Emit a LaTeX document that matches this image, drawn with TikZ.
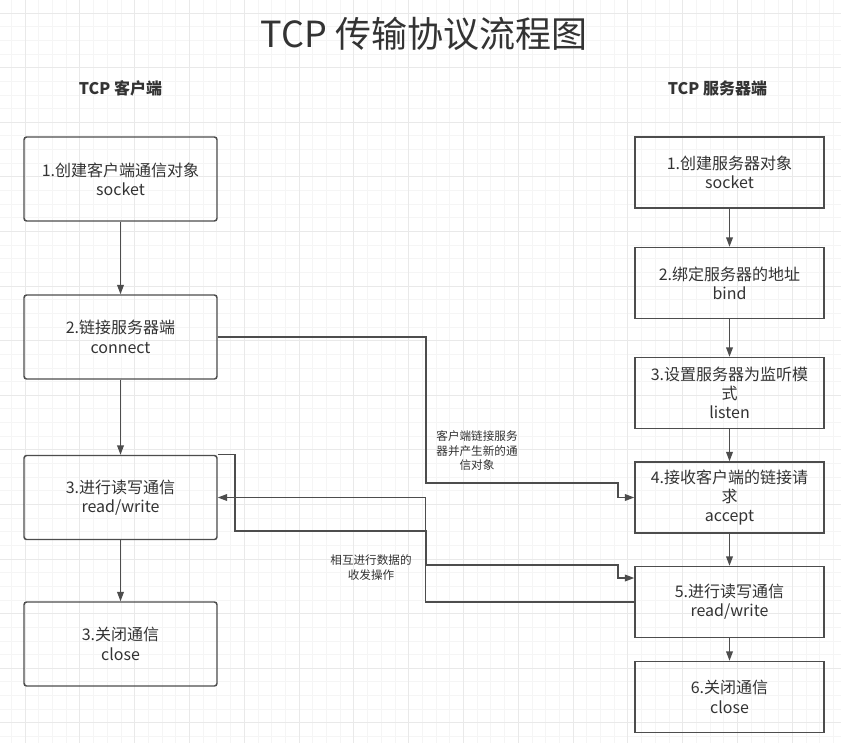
\documentclass[tikz,border=0pt]{standalone}
\usepackage{fontspec}
\setmainfont{Noto Sans CJK SC}
\usetikzlibrary{arrows.meta}

\definecolor{boxline}{RGB}{77,77,77}
\definecolor{txtgray}{RGB}{51,51,51}
\definecolor{gridminor}{RGB}{245,245,245}
\definecolor{gridmajor}{RGB}{233,233,233}

\tikzset{
  boxtext/.style={font=\fontsize{12}{14.5}\selectfont, text=txtgray, align=center},
  lbox/.style={boxtext, draw=boxline, line width=1.1pt, rounded corners=2pt, inner sep=0pt,
    minimum width=144.75pt, minimum height=63pt},
  rbox/.style={boxtext, draw=boxline, line width=1.1pt, inner sep=0pt,
    minimum width=141.75pt, minimum height=53.25pt},
  lbl/.style={font=\fontsize{8.7}{10.9}\selectfont, text=txtgray, align=center, inner sep=0.75pt},
  flowarr/.style={draw=boxline, line width=1pt, -{Triangle[length=7pt,width=5pt]}},
}

\begin{document}
\begin{tikzpicture}[x=0.75pt,y=0.75pt,yscale=-1,xscale=1]
\useasboundingbox (0,0) rectangle (841,743);
\fill[white] (0,0) rectangle (841,743);

%Grid
\foreach \k in {-1,...,59} \draw[gridminor, line width=0.6pt] ({25+13.7*\k},0) -- ({25+13.7*\k},743);
\foreach \k in {0,...,53} \draw[gridminor, line width=0.6pt] (0,{13+13.65*\k}) -- (841,{13+13.65*\k});
\foreach \k in {0,...,14} \draw[gridmajor, line width=0.6pt] ({25+54.8*\k},0) -- ({25+54.8*\k},743);
\foreach \k in {0,...,13} \draw[gridmajor, line width=0.6pt] (0,{13+54.6*\k}) -- (841,{13+54.6*\k});

% Text Node
\node (title) at (424,34) [text=txtgray, font=\fontsize{27}{30}\selectfont] {TCP 传输协议流程图};
% Text Node
\node (clienthead) at (120.5,88) [text=txtgray, font=\fontsize{12}{14}\selectfont\bfseries] {TCP 客户端};
% Text Node
\node (serverhead) at (717.5,88) [text=txtgray, font=\fontsize{12}{14}\selectfont\bfseries] {TCP 服务器端};

%Shape: Rectangle
\node (cl1) at (120.5,179) [lbox] {1.创建客户端通信对象\\socket};
\node (cl2) at (120.5,337) [lbox] {2.链接服务器端\\connect};
\node (cl3) at (120.5,497.5) [lbox] {3.进行读写通信\\read/write};
\node (cl4) at (120.5,644) [lbox] {3.关闭通信\\close};

%Shape: Rectangle
\node (sv1) at (729.5,172.5) [rbox] {1.创建服务器对象\\socket};
\node (sv2) at (729.5,283) [rbox] {2.绑定服务器的地址\\bind};
\node (sv3) at (729.5,393) [rbox] {3.设置服务器为监听模\\式\\listen};
\node (sv4) at (729.5,497.5) [rbox] {4.接收客户端的链接请\\求\\accept};
\node (sv5) at (729.5,602) [rbox] {5.进行读写通信\\read/write};
\node (sv6) at (729.5,697) [rbox] {6.关闭通信\\close};

%Straight Lines
\draw [flowarr] (cl1) -- (cl2);
\draw [flowarr] (cl2) -- (cl3);
\draw [flowarr] (cl3) -- (cl4);
\draw [flowarr] (sv1) -- (sv2);
\draw [flowarr] (sv2) -- (sv3);
\draw [flowarr] (sv3) -- (sv4);
\draw [flowarr] (sv4) -- (sv5);
\draw [flowarr] (sv5) -- (sv6);

%Connectors between the two sides
\coordinate (bendA) at (426,483);
\coordinate (bendB) at (618,483);
\draw [flowarr] (cl2.east) -| (bendA) -- (bendB) |- (sv4.west);

\coordinate (rwA) at (235,531);
\coordinate (rwB) at (426,565);
\coordinate (rwC) at (618,578);
\draw [flowarr] (cl3.north east) -| (rwA) -| (rwB) -| (rwC) -- (sv5.west |- rwC);
\draw [flowarr] (sv5.west) -- ++(-209,0) |- (cl3.east);

% Text Node
\node (lblconnect) at (477,451) [lbl] {客户端链接服务\\器并产生新的通\\信对象};
% Text Node
\node (lblrw) at (371,567.5) [lbl] {相互进行数据的\\收发操作};

\end{tikzpicture}
\end{document}
